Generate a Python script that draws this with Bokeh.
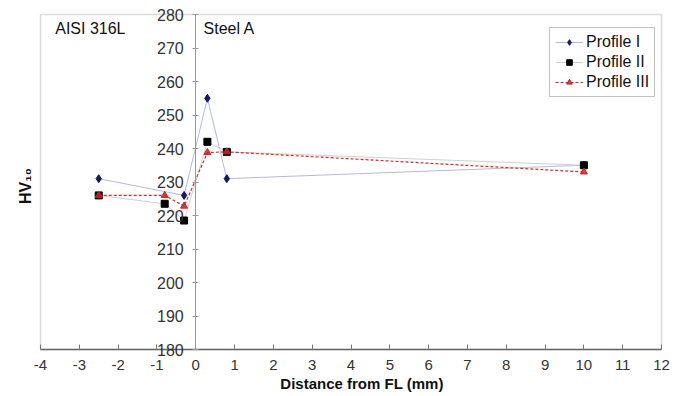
from math import pi
from bokeh.plotting import figure
from bokeh.models import (Range1d, FixedTicker, Label, Legend, LegendItem,
                          CustomJSTickFormatter, BoxAnnotation)
from bokeh.embed import file_html
from bokeh.resources import INLINE

# ---- data ----
x_ticks = list(range(-4, 13))
y_ticks = list(range(180, 281, 10))

p1_x = [-2.5, -0.3, 0.3, 0.8, 10]
p1_y = [231, 226, 255, 231, 235]

p2_x = [-2.5, -0.8, -0.3, 0.3, 0.8, 10]
p2_y = [226, 223.5, 218.5, 242, 239, 235]

p3_x = [-2.5, -0.8, -0.3, 0.3, 0.8, 10]
p3_y = [226, 226, 222.8, 238.8, 239, 233]

series_names = ["Profile I", "Profile II", "Profile III"]
region_labels = ["AISI 316L", "Steel A"]
x_title = "Distance from FL (mm)"
y_title = "HV₁₀"

FONT = "Liberation Sans"
X_LO, X_HI = -4, 12
Y_LO, Y_HI = 180, 280
Y_AXIS_AT = 0

# ---- layout (pixels) ----
W, H = 688, 396
BOX_L, BOX_R, BOX_T, BOX_B = 40, 661, 14, 349
sx = (BOX_R - BOX_L) / (X_HI - X_LO)
sy = (BOX_B - BOX_T) / (Y_HI - Y_LO)

p = figure(
    width=W, height=H, min_border=0,
    x_range=Range1d(X_LO - BOX_L / sx, X_HI + (W - BOX_R) / sx),
    y_range=Range1d(Y_LO - (H - BOX_B) / sy, Y_HI + BOX_T / sy),
    output_backend="svg", toolbar_location=None,
    background_fill_color="white", border_fill_color="white",
)
p.xgrid.visible = False
p.ygrid.visible = False
p.outline_line_color = None

# plotting box
p.add_layout(BoxAnnotation(left=X_LO, right=X_HI, bottom=Y_LO, top=Y_HI,
                           fill_alpha=0, line_color="#888888", line_width=1.5,
                           level="underlay"))

# x axis at y = 180
xa = p.xaxis[0]
xa.fixed_location = Y_LO
xa.bounds = (X_LO, X_HI)
xa.ticker = FixedTicker(ticks=x_ticks)
xa.formatter = CustomJSTickFormatter(code="return String(tick)")
xa.axis_line_color = "#666666"
xa.axis_line_width = 1.5
xa.major_tick_in = 5
xa.major_tick_out = 0
xa.minor_tick_line_color = None
xa.major_tick_line_color = "#777777"
xa.major_label_text_font = FONT
xa.major_label_text_font_size = "15px"
xa.major_label_text_color = "#333333"
xa.major_label_standoff = 10

# y axis at x = 0
ya = p.yaxis[0]
ya.fixed_location = Y_AXIS_AT
ya.bounds = (Y_LO, Y_HI)
ya.ticker = FixedTicker(ticks=y_ticks)
ya.axis_line_color = "#999999"
ya.axis_line_width = 1
ya.major_tick_in = 3
ya.major_tick_out = 3
ya.minor_tick_line_color = None
ya.major_tick_line_color = "#999999"
ya.major_label_text_font = FONT
ya.major_label_text_font_size = "16px"
ya.major_label_text_color = "#333333"
ya.major_label_standoff = 9

# series
r1l = p.line(p1_x, p1_y, line_color="#b4bad8", line_width=1)
r1m = p.scatter(p1_x, p1_y, marker="diamond", size=8, fill_color="#15156a", line_color="#15156a")
r2l = p.line(p2_x, p2_y, line_color="#d0d0d0", line_width=1)
r2m = p.scatter(p2_x, p2_y, marker="square", size=7, fill_color="black", line_color="black")
r3l = p.line(p3_x, p3_y, line_color="#e02828", line_width=1.2, line_dash="3 2")
r3m = p.scatter(p3_x, p3_y, marker="triangle", size=7, fill_color="#cc2020", line_color="#cc2020", fill_alpha=0.85)

legend = Legend(
    items=[
        LegendItem(label=series_names[0], renderers=[r1l, r1m]),
        LegendItem(label=series_names[1], renderers=[r2l, r2m]),
        LegendItem(label=series_names[2], renderers=[r3l, r3m]),
    ],
    location=(549, H - 97),
    label_text_font=FONT,
    label_text_font_size="16px",
    label_text_color="#111111",
    label_height=18,
    glyph_width=28,
    glyph_height=14,
    spacing=2,
    padding=5,
    label_standoff=3,
    border_line_color="#888888",
    border_line_width=1,
    background_fill_color="white",
    background_fill_alpha=1,
)
p.add_layout(legend, "center")

# region annotations
p.add_layout(Label(x=-3.62, y=278.3, text=region_labels[0], text_font=FONT,
                   text_font_size="16px", text_color="#111111", text_baseline="top"))
p.add_layout(Label(x=0.2, y=278.3, text=region_labels[1], text_font=FONT,
                   text_font_size="16px", text_color="#111111", text_baseline="top"))

# x axis title, below the tick labels
p.add_layout(Label(x=(X_LO + X_HI) / 2 + 11 / sx, y=Y_LO - 34 / sy, text=x_title,
                   text_align="center", text_baseline="middle",
                   text_font=FONT, text_font_style="bold", text_font_size="15px",
                   text_color="#111111"))

# y axis title, left of the box
p.add_layout(Label(x=X_LO - 15 / sx, y=(Y_LO + Y_HI) / 2 - 4 / sy, text=y_title,
                   angle=pi / 2, text_align="center", text_baseline="middle",
                   text_font=FONT, text_font_style="bold", text_font_size="16px",
                   text_color="#111111"))

open("out.html", "w").write(file_html(p, INLINE))
